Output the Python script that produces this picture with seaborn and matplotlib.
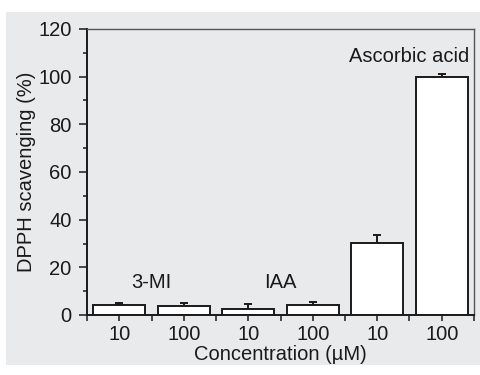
import numpy as np
import pandas as pd
import matplotlib
matplotlib.use("Agg")
import matplotlib.pyplot as plt
import seaborn as sns
from matplotlib.patches import Rectangle
from matplotlib.ticker import MultipleLocator, FixedLocator

# data
conc_labels = ["10", "100", "10", "100", "10", "100"]
compounds = ["3-MI", "3-MI", "IAA", "IAA", "Ascorbic acid", "Ascorbic acid"]
scavenging = [4.0, 3.8, 2.5, 4.2, 30.2, 100.0]
err_up = [0.9, 1.4, 2.0, 1.3, 3.3, 1.0]

df = pd.DataFrame({"pos": [str(i) for i in range(6)], "conc": conc_labels,
                   "compound": compounds, "value": scavenging})

sns.set_theme(style="white")
plt.rcParams["font.family"] = ["Liberation Sans", "DejaVu Sans"]

FS = 14.5
ink = "#1a1a1a"
bg = "#e9eaec"
fig = plt.figure(figsize=(4.81, 3.75), dpi=100, facecolor="white")
fig.patches.append(Rectangle((6 / 481, 10 / 375), 1 - 6 / 481, 1 - 22 / 375,
                             transform=fig.transFigure, facecolor=bg,
                             edgecolor="none", zorder=-10))
ax = fig.add_axes([87 / 481, 1 - 315 / 375, 387 / 481, 286 / 375])
ax.set_facecolor(bg)

sns.barplot(data=df, x="pos", y="value", color="white", edgecolor=ink,
            linewidth=1.4, width=0.8, errorbar=None, ax=ax, zorder=2)
ax.errorbar(range(6), scavenging, yerr=[np.zeros(6), err_up], fmt="none",
            ecolor=ink, elinewidth=1.4, capsize=3, capthick=1.4, zorder=1)

ax.set_xlim(-0.5, 5.5)
ax.set_ylim(0, 120)
ax.yaxis.set_major_locator(MultipleLocator(20))
ax.yaxis.set_minor_locator(MultipleLocator(10))
ax.xaxis.set_minor_locator(FixedLocator(np.arange(-0.5, 6, 1)))
ax.set_xticks(range(6))
ax.set_xticklabels(conc_labels)

ax.tick_params(axis="both", which="both", direction="out", color=ink,
               labelsize=FS, labelcolor=ink, width=1.1)
ax.tick_params(axis="y", which="major", length=6, left=True, pad=5)
ax.tick_params(axis="y", which="minor", length=3, left=True)
ax.tick_params(axis="x", which="major", length=4, bottom=True, pad=3)
ax.tick_params(axis="x", which="minor", length=4, bottom=True)

for side in ["left", "bottom"]:
    ax.spines[side].set_color(ink)
    ax.spines[side].set_linewidth(1.4)
for side in ["top", "right"]:
    ax.spines[side].set_color("#555555")
    ax.spines[side].set_linewidth(1.0)

ax.set_xlabel("Concentration (µM)", fontsize=FS, color=ink, labelpad=1)
ax.set_ylabel("DPPH scavenging (%)", fontsize=FS, color=ink, labelpad=2)

ax.text(0.5, 13.5, "3-MI", ha="center", va="center", fontsize=FS, color=ink)
ax.text(2.5, 13.5, "IAA", ha="center", va="center", fontsize=FS, color=ink)
ax.text(4.5, 108.5, "Ascorbic acid", ha="center", va="center", fontsize=FS,
        color=ink)

fig.savefig("out.png", dpi=100, facecolor=fig.get_facecolor())
